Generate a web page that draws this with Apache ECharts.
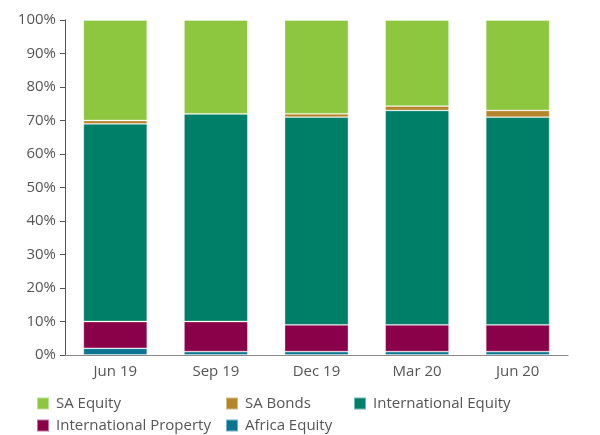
<!DOCTYPE html>
<html><head><meta charset="utf-8">
<script src="https://cdn.jsdelivr.net/npm/echarts@6/dist/echarts.min.js"></script>
<style>html,body{margin:0;padding:0;background:#fff}#c{width:600px;height:435px}</style>
</head><body><div id="c"></div>
<script>
var categories = ['Jun 19', 'Sep 19', 'Dec 19', 'Mar 20', 'Jun 20'];
var africaEquity = [2, 1, 1, 1, 1];
var intlProperty = [8, 9, 8, 8, 8];
var intlEquity = [59, 62, 62, 64, 62];
var saBonds = [1, 0, 1, 1.3, 2];
var saEquity = [30, 28, 28, 25.7, 27];
var yTicks = [0, 10, 20, 30, 40, 50, 60, 70, 80, 90, 100];

var font = 'Open Sans';
var txt = '#555';
function s(name, data, color) {
  return { name: name, type: 'bar', stack: 'a', data: data, barWidth: '63.5%',
    itemStyle: { color: color, borderColor: 'rgba(255,255,255,0.45)', borderWidth: 0.8 } };
}
function lg(name, left, top) {
  return { data: [name], left: left, top: top, itemWidth: 12, itemHeight: 12, icon: 'rect',
    padding: 0, itemGap: 0,
    textStyle: { fontFamily: font, fontSize: 15, color: txt, padding: [0, 0, 0, 2] } };
}
var chart = echarts.init(document.getElementById('c'));
chart.setOption({
  animation: false,
  grid: { left: 65, right: 32, top: 20, bottom: 80 },
  legend: [
    lg('SA Equity', 36, 396),
    lg('SA Bonds', 225, 396),
    lg('International Equity', 353, 396),
    lg('International Property', 36, 418),
    lg('Africa Equity', 225, 418)
  ],
  xAxis: { type: 'category', data: categories,
    axisLine: { lineStyle: { color: '#888' } }, axisTick: { show: false },
    axisLabel: { fontFamily: font, fontSize: 15, color: txt, margin: 9 } },
  yAxis: { type: 'value', min: yTicks[0], max: yTicks[yTicks.length - 1], interval: 10,
    axisLine: { show: true, lineStyle: { color: '#555' } },
    axisTick: { show: true, length: 5, lineStyle: { color: '#555' } },
    splitLine: { show: false },
    axisLabel: { fontFamily: font, fontSize: 15, color: txt, margin: 9, formatter: '{value}%' } },
  series: [
    s('Africa Equity', africaEquity, '#0b7590'),
    s('International Property', intlProperty, '#8a0049'),
    s('International Equity', intlEquity, '#007f68'),
    s('SA Bonds', saBonds, '#b5852b'),
    s('SA Equity', saEquity, '#8dc63f')
  ]
});
</script></body></html>
